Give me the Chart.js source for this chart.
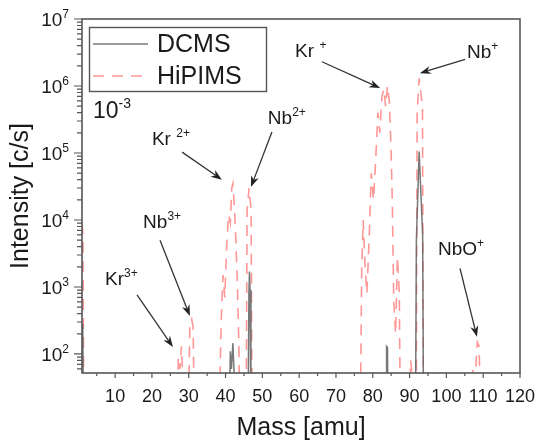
<!DOCTYPE html>
<html>
<head>
<meta charset="utf-8">
<script src="https://cdn.jsdelivr.net/npm/chart.js@4.4.0/dist/chart.umd.min.js"></script>
<style>
  html, body { margin: 0; padding: 0; background: #fff; }
  canvas { display: block; }
</style>
</head>
<body>
<canvas id="spectrum" width="541" height="446"></canvas>
<script>
// mass spectra, counts below the axis floor just pull the trace off the bottom
const dcmsMass = [1.0, 1.2, 1.4, 41.0, 41.3, 41.6, 42.0, 42.4, 42.7, 46.1, 46.35, 46.5, 46.65, 46.9,
  83.6, 83.75, 84.0, 84.15, 91.6, 91.85, 92.6, 93.55, 93.8, 120];
const dcmsCounts = [280, 250, 10, 10, 110, 60, 145, 40, 10, 10, 800, 1700, 900, 10,
  10, 130, 125, 10, 10, 5000, 105000, 6000, 10, 10];

const hipimsMass = [1.0, 1.25, 1.5,
  26.7, 27.2, 27.6, 28.0, 28.4, 28.7,
  29.9, 30.3, 30.8, 31.2, 31.5,
  38.3, 38.8, 39.3, 39.8, 40.3, 40.8, 41.3, 41.7, 42.0, 42.4, 42.8, 43.2, 43.6, 43.9,
  45.6, 45.85, 46.4, 46.95, 47.2,
  76.6, 77.0, 77.4, 77.9, 78.4, 79.0, 79.6, 80.2, 80.8, 81.4, 81.9, 82.5, 83.0, 83.5, 84.0, 84.5,
  85.0, 85.3, 85.7, 86.2, 86.7, 87.2, 87.5,
  89.8, 90.3, 90.7, 91.0,
  91.8, 92.05, 92.6, 93.5, 93.75,
  106.5, 107.2, 107.8, 108.4, 108.9, 109.3, 120];
const hipimsCounts = [9000, 6000, 10,
  10, 90, 60, 130, 40, 10,
  10, 280, 330, 250, 10,
  10, 300, 1500, 700, 4000, 12000, 9000, 30000, 35000, 16000, 5000, 1200, 150, 10,
  10, 14000, 30000, 14000, 10,
  10, 2000, 10000, 2000, 800, 5000, 50000, 20000, 80000, 400000, 200000, 700000, 900000, 500000, 1000000, 600000,
  100000, 20000, 600, 200, 2800, 800, 10,
  10, 80, 50, 10,
  10, 400000, 1300000, 500000, 10,
  10, 60, 40, 150, 130, 10, 10];

const seriesNames = ['DCMS', 'HiPIMS'];
const massTicks = [10, 20, 30, 40, 50, 60, 70, 80, 90, 100, 110, 120];
const intensityDecades = [2, 3, 4, 5, 6, 7];

// peak labels: text anchor, arrow tail and arrow tip in (mass, counts)
const peakLabels = [
  { base: 'Kr', sup: '3+', text: [7.25, 1070], tail: [15.95, 760], tip: [25.7, 127] },
  { base: 'Nb', sup: '3+', text: [17.6, 7600], tail: [22.2, 5000], tip: [30.3, 370] },
  { base: 'Kr ', sup: '2+', text: [20.0, 130000], tail: [28.2, 103000], tip: [39.0, 40000] },
  { base: 'Nb', sup: '2+', text: [51.5, 270000], tail: [52.6, 205000], tip: [46.9, 31000] },
  { base: 'Kr ', sup: '+', text: [58.9, 2700000], tail: [66.2, 2300000], tip: [82.0, 930000] },
  { base: 'Nb', sup: '+', text: [105.6, 2600000], tail: [105.1, 2500000], tip: [92.8, 1550000] },
  { base: 'NbO', sup: '+', text: [97.7, 3000], tail: [103.7, 1900], tip: [108.3, 180] }
];

const FONT = '"Liberation Sans", Arial, sans-serif';
const INK = '#1a1a1a';
const FRAME = '#555';
const DCMS_COLOR = 'rgba(105,105,105,0.9)';
const HIPIMS_COLOR = 'rgba(255,95,95,0.65)';
const HIPIMS_DASH = [11, 8];

function toPoints(xs, ys) {
  return xs.map((m, i) => ({ x: m, y: ys[i] }));
}

function drawSup(ctx, x, y, base, sup, size, align) {
  ctx.textBaseline = 'alphabetic';
  ctx.textAlign = 'left';
  ctx.font = size + 'px ' + FONT;
  const wb = ctx.measureText(base).width;
  const supSize = Math.round(size * 0.62);
  ctx.font = supSize + 'px ' + FONT;
  const ws = ctx.measureText(sup).width;
  const x0 = align === 'right' ? x - wb - ws : x;
  ctx.font = size + 'px ' + FONT;
  ctx.fillText(base, x0, y);
  ctx.font = supSize + 'px ' + FONT;
  ctx.fillText(sup, x0 + wb, y - size * 0.42);
}

function drawArrow(ctx, x0, y0, x1, y1) {
  const a = Math.atan2(y1 - y0, x1 - x0);
  const c = Math.cos(a), s = Math.sin(a);
  const len = 11, half = 4;
  ctx.strokeStyle = '#333';
  ctx.fillStyle = '#222';
  ctx.lineWidth = 1.3;
  ctx.beginPath();
  ctx.moveTo(x0, y0);
  ctx.lineTo(x1 - len * 0.7 * c, y1 - len * 0.7 * s);
  ctx.stroke();
  ctx.beginPath();
  ctx.moveTo(x1, y1);
  ctx.lineTo(x1 - len * c + half * s, y1 - len * s - half * c);
  ctx.lineTo(x1 - len * 0.7 * c, y1 - len * 0.7 * s);
  ctx.lineTo(x1 - len * c - half * s, y1 - len * s + half * c);
  ctx.closePath();
  ctx.fill();
}

const decorations = {
  id: 'decorations',
  afterDatasetsDraw(chart) {
    const { ctx, chartArea: area, scales: { x, y } } = chart;
    ctx.save();

    // frame
    ctx.strokeStyle = FRAME;
    ctx.lineWidth = 1.6;
    ctx.strokeRect(area.left, area.top, area.right - area.left, area.bottom - area.top);

    // x ticks, major every 10 and minor in between
    ctx.lineWidth = 1.2;
    ctx.beginPath();
    for (let m = 5; m <= 120; m += 5) {
      const px = x.getPixelForValue(m);
      const len = m % 10 === 0 ? 5 : 3;
      ctx.moveTo(px, area.bottom);
      ctx.lineTo(px, area.bottom + len);
    }
    // y ticks, log minors
    for (let d = 1; d <= 7; d++) {
      for (let k = 1; k <= 9; k++) {
        const v = k * Math.pow(10, d);
        if (v < y.min || v > y.max) continue;
        const py = y.getPixelForValue(v);
        const len = k === 1 ? 8 : 5;
        ctx.moveTo(area.left, py);
        ctx.lineTo(area.left - len, py);
      }
    }
    ctx.stroke();

    // tick labels
    ctx.fillStyle = INK;
    ctx.font = '18px ' + FONT;
    ctx.textAlign = 'center';
    ctx.textBaseline = 'alphabetic';
    massTicks.forEach(m => ctx.fillText(String(m), x.getPixelForValue(m), 402));
    intensityDecades.forEach(d => {
      const py = y.getPixelForValue(Math.pow(10, d));
      drawSup(ctx, 69, py + 7, '10', String(d), 19, 'right');
    });

    // legend
    ctx.strokeStyle = FRAME;
    ctx.lineWidth = 1.4;
    ctx.strokeRect(89.5, 27.5, 177, 64);
    const rows = [44, 76];
    ctx.lineWidth = 1.5;
    ctx.strokeStyle = DCMS_COLOR;
    ctx.beginPath(); ctx.moveTo(93, rows[0]); ctx.lineTo(148, rows[0]); ctx.stroke();
    ctx.strokeStyle = HIPIMS_COLOR;
    ctx.setLineDash(HIPIMS_DASH);
    ctx.beginPath(); ctx.moveTo(93, rows[1]); ctx.lineTo(148, rows[1]); ctx.stroke();
    ctx.setLineDash([]);
    ctx.fillStyle = INK;
    ctx.font = '25px ' + FONT;
    ctx.textAlign = 'left';
    ctx.textBaseline = 'middle';
    seriesNames.forEach((n, i) => ctx.fillText(n, 157, rows[i] + 1));

    // HiPIMS scaling note
    drawSup(ctx, 93, 118, '10', '-3', 23, 'left');

    // peak labels with arrows
    peakLabels.forEach(p => {
      ctx.fillStyle = INK;
      drawSup(ctx, x.getPixelForValue(p.text[0]), y.getPixelForValue(p.text[1]), p.base, p.sup, 19, 'left');
      drawArrow(ctx,
        x.getPixelForValue(p.tail[0]), y.getPixelForValue(p.tail[1]),
        x.getPixelForValue(p.tip[0]), y.getPixelForValue(p.tip[1]));
    });

    ctx.restore();
  }
};

new Chart(document.getElementById('spectrum'), {
  type: 'line',
  data: {
    datasets: [
      {
        label: seriesNames[0],
        data: toPoints(dcmsMass, dcmsCounts),
        borderColor: DCMS_COLOR,
        borderWidth: 1.5,
        pointRadius: 0,
        order: 0
      },
      {
        label: seriesNames[1],
        data: toPoints(hipimsMass, hipimsCounts),
        borderColor: HIPIMS_COLOR,
        borderWidth: 1.6,
        borderDash: HIPIMS_DASH,
        pointRadius: 0,
        order: 1
      }
    ]
  },
  options: {
    responsive: false,
    animation: false,
    layout: { padding: { top: 19, right: 21, bottom: 0, left: 0 } },
    plugins: { legend: { display: false }, tooltip: { enabled: false } },
    scales: {
      x: {
        type: 'linear',
        min: 1,
        max: 120,
        ticks: { display: false },
        grid: { display: false },
        border: { display: false },
        title: {
          display: true, text: 'Mass [amu]', color: INK,
          font: { size: 25, family: FONT }, padding: { top: 0, bottom: 3 }
        },
        afterFit: s => { s.height = 73; }
      },
      y: {
        type: 'logarithmic',
        min: 52,
        max: 1e7,
        ticks: { display: false },
        grid: { display: false },
        border: { display: false },
        title: {
          display: true, text: 'Intensity [c/s]', color: INK,
          font: { size: 25, family: FONT }, padding: { top: 6, bottom: 0 }
        },
        afterFit: s => { s.width = 82; }
      }
    }
  },
  plugins: [decorations]
});
</script>
</body>
</html>
